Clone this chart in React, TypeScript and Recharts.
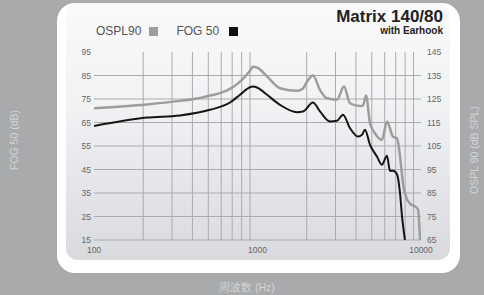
import { LineChart, Line, XAxis, YAxis, ReferenceLine } from 'recharts';

// OSPL90 (dB SPL, right axis)
const osplFreq = [100, 211, 336, 445, 512, 590, 679, 782, 900, 938, 1000, 1143, 1374, 1745, 1897, 2009, 2185, 2410, 2661, 3062, 3381, 3679, 4238, 4418, 4609, 4877, 5231, 5768, 6194, 6741, 7129, 7333, 7543, 7762, 8091, 8570, 9188, 9594, 9862];
const osplValues = [121.1, 122.7, 124.2, 125.4, 126.5, 127.5, 129.3, 132.4, 137, 138.7, 138.3, 134.6, 129.6, 128.5, 129.5, 132.4, 135, 128.9, 125.3, 124.7, 130.3, 123.2, 122, 122.2, 126.5, 114.7, 110.4, 107.6, 115.4, 109, 108.3, 104.1, 97, 89, 83.5, 80.5, 79.3, 78, 65];

// FOG 50 (dB, left axis)
const fogFreq = [100, 211, 336, 512, 679, 782, 900, 938, 1000, 1143, 1374, 1745, 1897, 2185, 2410, 2775, 3062, 3334, 3679, 4120, 4357, 4542, 4877, 5378, 5768, 6194, 6459, 6741, 7129, 7440, 7656, 7980];
const fogValues = [63.5, 67.1, 68, 70.4, 73.5, 76.8, 80, 80.3, 79.8, 76.8, 72.5, 69.4, 69.7, 73.5, 69.7, 65.4, 65.7, 68.3, 62.6, 59, 59.8, 61.9, 55.5, 50.5, 47, 50.9, 44.4, 44.5, 43, 35, 25, 15];

const xTicks = [100, 1000, 10000];
const xGrid = [200, 300, 400, 500, 600, 700, 800, 900, 2000, 3000, 4000, 5000, 6000, 7000, 8000, 9000];
const leftTicks = [15, 25, 35, 45, 55, 65, 75, 85, 95];
const rightTicks = [65, 75, 85, 95, 105, 115, 125, 135, 145];
const yGrid = [15, 25, 35, 45, 55, 65, 75, 85];

const osplData = osplFreq.map((f, i) => ({ f, v: osplValues[i] }));
const fogData = fogFreq.map((f, i) => ({ f, v: fogValues[i] }));

const tickStyle = { fontSize: 8.5, fill: '#666', fontFamily: 'Liberation Sans, Arial, sans-serif' };
const outerText = { position: 'absolute' as const, color: '#d4d5d7', fontFamily: 'Liberation Sans, Arial, sans-serif', fontSize: 10.5, whiteSpace: 'nowrap' as const };

export default function App() {
  return (
    <div style={{ position: 'fixed', left: 0, top: 0, width: 484, height: 295, background: '#a9aaac', overflow: 'hidden' }}>
      {/* panel */}
      <div style={{ position: 'absolute', left: 57, top: 3, width: 403, height: 270, background: '#fff', borderRadius: 18 }} />
      <div style={{ position: 'absolute', left: 66, top: 3, width: 384, height: 257, borderRadius: 12, background: 'linear-gradient(#fafafb, #f1f2f4 40%, #d9dade)' }} />

      <div style={{ ...outerText, left: 14, top: 140, transform: 'translate(-50%, -50%) rotate(-90deg)' }}>FOG 50 (dB)</div>
      <div style={{ ...outerText, left: 474, top: 150, transform: 'translate(-50%, -50%) rotate(-90deg)' }}>OSPL 90 (dB SPL)</div>
      <div style={{ ...outerText, left: 247, top: 288, transform: 'translate(-50%, -50%)' }}>周波数 (Hz)</div>

      <div style={{ position: 'absolute', right: 41, top: 8, fontFamily: 'Liberation Sans Narrow, Arial Narrow, Liberation Sans, sans-serif', fontWeight: 'bold', fontSize: 17, color: '#222', lineHeight: 1 }}>Matrix 140/80</div>
      <div style={{ position: 'absolute', right: 41, top: 26, fontFamily: 'Liberation Sans, Arial, sans-serif', fontWeight: 'bold', fontSize: 10, color: '#222', lineHeight: 1 }}>with Earhook</div>

      <div style={{ position: 'absolute', left: 96, top: 24, display: 'flex', alignItems: 'center', fontFamily: 'Liberation Sans, Arial, sans-serif', fontSize: 12, color: '#555' }}>
        <span>OSPL90</span>
        <span style={{ display: 'inline-block', width: 9, height: 9, background: '#9d9d9d', marginLeft: 8 }} />
        <span style={{ marginLeft: 18 }}>FOG 50</span>
        <span style={{ display: 'inline-block', width: 9, height: 9, background: '#111', marginLeft: 10 }} />
      </div>

      <div style={{ position: 'absolute', left: 0, top: 0 }}>
        <LineChart width={484} height={295} margin={{ top: 52, right: 23, bottom: 35, left: 54 }}>
          <XAxis
            type="number"
            dataKey="f"
            scale="log"
            domain={[100, 10000]}
            ticks={xTicks}
            axisLine={false}
            tickLine={false}
            tickSize={0}
            tickMargin={7}
            height={20}
            tick={tickStyle}
            allowDataOverflow
          />
          <YAxis
            yAxisId="fog"
            orientation="left"
            domain={[15, 95]}
            ticks={leftTicks}
            axisLine={false}
            tickLine={false}
            tickSize={0}
            tickMargin={3}
            width={40}
            tick={tickStyle}
          />
          <YAxis
            yAxisId="ospl"
            orientation="right"
            domain={[65, 145]}
            ticks={rightTicks}
            axisLine={false}
            tickLine={false}
            tickSize={0}
            tickMargin={6}
            width={40}
            tick={tickStyle}
          />
          {yGrid.map(v => (
            <ReferenceLine key={`h${v}`} yAxisId="fog" y={v} stroke="#aaabad" strokeWidth={1} />
          ))}
          {xGrid.map(f => (
            <ReferenceLine key={`v${f}`} yAxisId="fog" x={f} stroke="#aaabad" strokeWidth={1} />
          ))}
          <Line
            data={osplData}
            yAxisId="ospl"
            dataKey="v"
            type="monotone"
            stroke="#9d9d9d"
            strokeWidth={2.5}
            dot={false}
            isAnimationActive={false}
          />
          <Line
            data={fogData}
            yAxisId="fog"
            dataKey="v"
            type="monotone"
            stroke="#151515"
            strokeWidth={2}
            dot={false}
            isAnimationActive={false}
          />
        </LineChart>
      </div>
    </div>
  );
}
